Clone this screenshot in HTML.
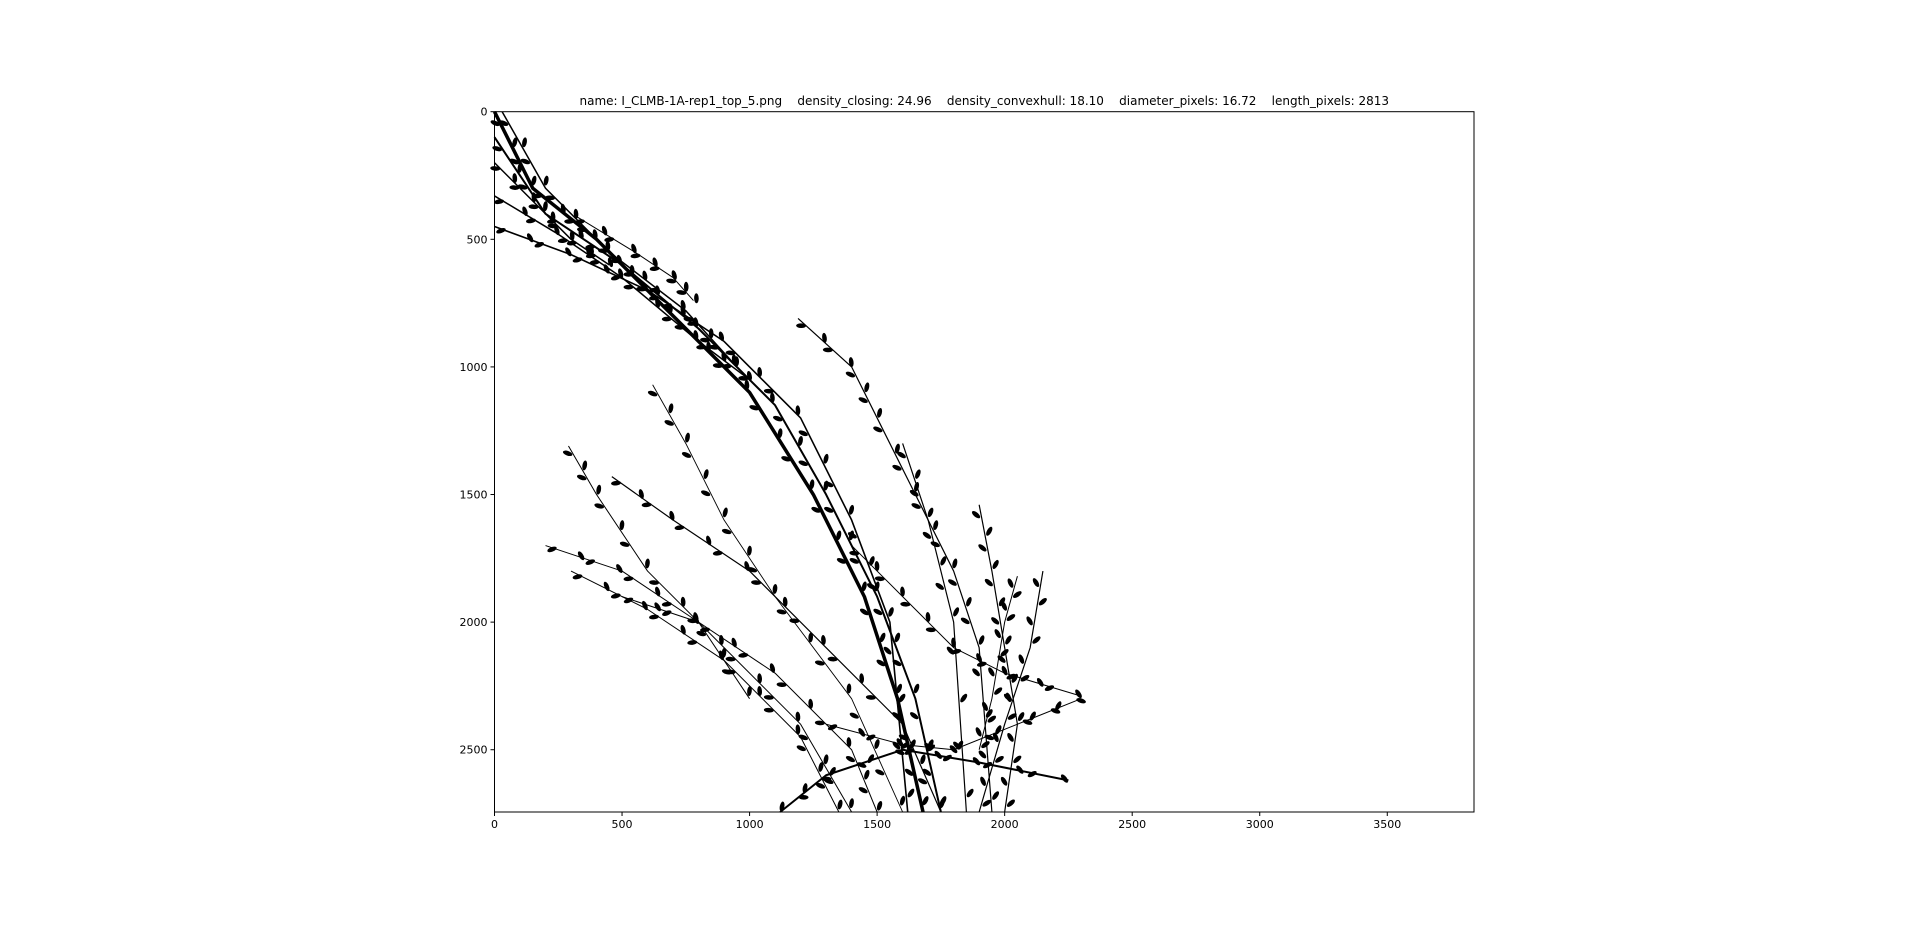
<!DOCTYPE html>
<html><head><meta charset="utf-8"><style>
body{margin:0;background:#fff;width:1920px;height:928px;overflow:hidden;}
svg{position:absolute;left:0;top:0}
text{font-family:"DejaVu Sans","Liberation Sans",sans-serif;fill:#000}
</style></head><body>
<svg id="chart" width="1920" height="928"></svg>
<script>
const xTicks=[0,500,1000,1500,2000,2500,3000,3500];
const yTicks=[0,500,1000,1500,2000,2500];
const xMax=3840, yMax=2744;
const titleText="name: I_CLMB-1A-rep1_top_5.png    density_closing: 24.96    density_convexhull: 18.10    diameter_pixels: 16.72    length_pixels: 2813";
const strokeMain=[[0,0],[150,300],[400,500],[700,800],[1000,1100],[1250,1500],[1450,1900],[1580,2300],[1680,2744]];
const stroke2=[[0,100],[200,400],[500,600],[800,850],[1100,1150],[1300,1500],[1500,1900],[1650,2300],[1750,2744]];
const stroke3=[[0,450],[300,560],[600,700],[900,900],[1200,1200],[1400,1600],[1550,2000],[1620,2744]];
const stroke4=[[0,330],[250,480],[500,650],[800,900],[1000,1050]];
const stroke5=[[320,410],[550,550],[700,650],[780,740]];
const stroke6=[[1190,810],[1400,1000],[1500,1200],[1650,1500],[1800,1800],[1900,2100],[1950,2744]];
const stroke7=[[290,1310],[400,1500],[600,1800],[900,2100],[1200,2400],[1400,2744]];
const stroke8=[[460,1430],[700,1600],[1000,1800],[1300,2100],[1600,2400],[1750,2744]];
const stroke9=[[620,1070],[750,1300],[900,1600],[1100,1900],[1400,2300],[1600,2744]];
const stroke10=[[1900,1540],[1950,1800],[2000,2100],[2050,2400],[2000,2744]];
const stroke11=[[2150,1800],[2100,2100],[2000,2400],[1900,2744]];
const stroke12=[[1120,2744],[1300,2600],[1600,2500],[1900,2550],[2250,2620]];
const stroke13=[[500,1900],[800,2000],[1100,2200],[1400,2500],[1500,2744]];
const stroke14=[[1600,1300],[1700,1600],[1800,2000],[1850,2744]];
const stroke15=[[0,200],[150,350],[300,500],[450,600]];
const stroke16=[[1400,1700],[1600,1900],[1800,2100],[2000,2200],[2300,2290]];
const stroke17=[[200,1700],[500,1800],[800,2000],[1000,2300]];
const stroke18=[[30,0],[200,300],[450,550],[750,780],[950,1000]];
const stroke19=[[300,1800],[600,1950],[900,2150],[1200,2450],[1350,2744]];
const stroke20=[[2050,1820],[2000,2000],[1950,2300],[1900,2500]];
const stroke21=[[1300,2400],[1600,2480],[1800,2500],[2100,2380],[2300,2300]];
const strokes=[strokeMain,stroke2,stroke3,stroke4,stroke5,stroke6,stroke7,stroke8,stroke9,stroke10,stroke11,stroke12,stroke13,stroke14,stroke15,stroke16,stroke17,stroke18,stroke19,stroke20,stroke21];
const strokeWidths=[3.5,2,1.6,1.5,1,1.2,1,1.2,0.9,1.2,1.2,2,1,1.2,1.5,1,1,1.5,1,1,1];
const svg=document.getElementById('chart');
const NS='http://www.w3.org/2000/svg';
const L=494.5,T=111.7,R=1474,B=812;
const sx=v=>L+v*(R-L)/xMax, sy=v=>T+v*(B-T)/yMax;
function mk(tag,attrs){const e=document.createElementNS(NS,tag);for(const k in attrs)e.setAttribute(k,attrs[k]);svg.appendChild(e);return e;}
const plant=document.createElementNS(NS,'g');


svg.appendChild(plant);
strokes.forEach((s,i)=>{
  const p=document.createElementNS(NS,'polyline');
  p.setAttribute('points',s.map(q=>sx(q[0])+','+sy(q[1])).join(' '));
  p.setAttribute('fill','none');p.setAttribute('stroke','#000');
  p.setAttribute('stroke-width',strokeWidths[i]);p.setAttribute('stroke-linejoin','round');
  
  
  plant.appendChild(p);
  for(let j=1;j<s.length;j++){
    const a=s[j-1],b=s[j];
    [0.15,0.4,0.65,0.9].forEach((f,k)=>{
      const x=a[0]+(b[0]-a[0])*f,y=a[1]+(b[1]-a[1])*f;
      if(y>=yMax-10)return;
      const e=document.createElementNS(NS,'ellipse');
      const side=(k%2)?1:-1;
      const ang=Math.atan2(b[1]-a[1],b[0]-a[0])*180/Math.PI+side*40;
      const ox=side*5;
      e.setAttribute('cx',sx(x)+ox);e.setAttribute('cy',sy(y));
      e.setAttribute('rx',5);e.setAttribute('ry',2.3);
      e.setAttribute('transform','rotate('+ang+' '+(sx(x)+ox)+' '+sy(y)+')');
      e.setAttribute('fill','#000');
      
      
      plant.appendChild(e);
    });
  }
});
const frame=mk('rect',{x:L,y:T,width:R-L,height:B-T,fill:'none',stroke:'#000','stroke-width':1});


xTicks.forEach(v=>{
  const t=mk('line',{x1:sx(v),x2:sx(v),y1:B,y2:B+4,stroke:'#000'});
  
  
  const l=mk('text',{x:sx(v),y:B+16,'text-anchor':'middle','font-size':11});
  l.textContent=v;
  
  
});
yTicks.forEach(v=>{
  const t=mk('line',{x1:L-4,x2:L,y1:sy(v),y2:sy(v),stroke:'#000'});
  
  
  const l=mk('text',{x:L-7,y:sy(v)+4,'text-anchor':'end','font-size':11});
  l.textContent=v;
  
  
});
const ti=mk('text',{x:(L+R)/2,y:105,'text-anchor':'middle','font-size':12});
ti.style.whiteSpace='pre';
ti.textContent=titleText;


</script>
</body></html>
